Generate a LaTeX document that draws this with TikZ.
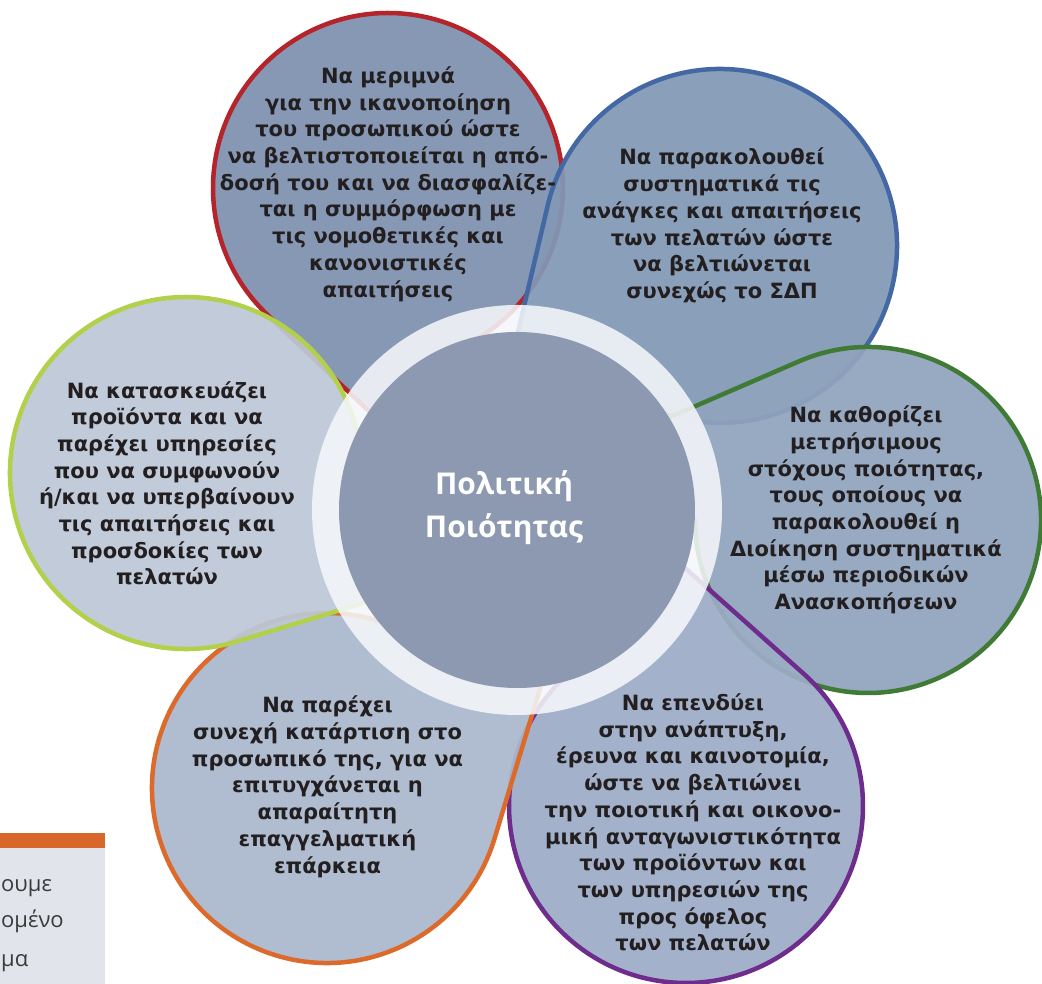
\documentclass[tikz,border=0pt]{standalone}
\usepackage{fontspec}
\setmainfont{Open Sans}
\newfontfamily\petalfont{DejaVu Sans}
\usetikzlibrary{calc}
\definecolor{lnRed}{HTML}{B5232B}
\definecolor{lnBlue}{HTML}{4468A3}
\definecolor{lnGreen}{HTML}{3F7B35}
\definecolor{lnPurple}{HTML}{6E2C8C}
\definecolor{lnOrange}{HTML}{DC6A2A}
\definecolor{lnLime}{HTML}{B2D04A}
\definecolor{fRed}{HTML}{7E91AF}
\definecolor{fBlue}{HTML}{8298B5}
\definecolor{fGreen}{HTML}{91A4BE}
\definecolor{fPurple}{HTML}{9DADC6}
\definecolor{fOrange}{HTML}{AAB9CD}
\definecolor{fLime}{HTML}{BDC8D7}
\definecolor{ringcol}{HTML}{F5F7FA}
\definecolor{innercol}{HTML}{8C99B0}
\definecolor{txtdark}{HTML}{231F20}
\definecolor{boxOr}{HTML}{D9662B}
\definecolor{boxGray}{HTML}{E1E5EB}
\definecolor{boxTxt}{HTML}{3A3A3A}
\begin{document}
\begin{tikzpicture}[x=1pt,y=1pt,
  petal/.style={line width=4.5pt, fill opacity=0.93, line join=round},
  ptext/.style={align=center, inner sep=0pt, text=txtdark,
    font=\petalfont\fontsize{21}{26.7}\selectfont\bfseries},
  ctext/.style={align=center, inner sep=0pt, text=white,
    font=\fontsize{30}{43}\selectfont\bfseries},
  btext/.style={anchor=base west, inner sep=0pt, text=boxTxt,
    font=\fontsize{22}{22}\selectfont}]
\useasboundingbox (0,0) rectangle (1042,984);
\fill[white] (0,0) rectangle (1042,984);
\begin{scope}
\clip (0,0) rectangle (1042,984);
% centres (y flipped: 984 - image y)
\coordinate (O) at (517,474);
\coordinate (C1) at (388,796);
\coordinate (C2) at (720,738);
\coordinate (C3) at (868,464);
\coordinate (C4) at (686,178);
\coordinate (C5) at (327,196);
\coordinate (C6) at (186,511);
\coordinate (T1) at (412,532);
\coordinate (T2) at (502,584);
\coordinate (T3) at (610,541);
\coordinate (T4) at (648,449);
\coordinate (T5) at (556,348);
\coordinate (T6) at (416,397);
% petals
\filldraw[petal, draw=lnRed, fill=fRed] (T1) -- ($(C1)+(-133.3:175)$)
  arc[start angle=-133.3, end angle=-425, radius=175] -- cycle;
\filldraw[petal, draw=lnBlue, fill=fBlue] (T2) -- ($(C2)+(-193.1:177)$)
  arc[start angle=-193.1, end angle=-480, radius=177] -- cycle;
\filldraw[petal, draw=lnGreen, fill=fGreen] (T3) -- ($(C3)+(-246.8:173)$)
  arc[start angle=-246.8, end angle=-540, radius=173] -- cycle;
\filldraw[petal, draw=lnPurple, fill=fPurple] (T4) -- ($(C4)+(-311.9:177)$)
  arc[start angle=-311.9, end angle=-595, radius=177] -- cycle;
\filldraw[petal, draw=lnOrange, fill=fOrange] (T5) -- ($(C5)+(-17:175)$)
  arc[start angle=-17, end angle=-300, radius=175] -- cycle;
\filldraw[petal, draw=lnLime, fill=fLime] (T6) -- ($(C6)+(-73.1:176)$)
  arc[start angle=-73.1, end angle=-350, radius=176] -- cycle;
% centre ring and disc
\fill[ringcol, fill opacity=0.88] (O) circle[radius=205];
\fill[innercol] (O) circle[radius=178];
% texts
\node[ptext] (t1) at (388,984-184) {Να μεριμνά\\για την ικανοποίηση\\του προσωπικού ώστε\\να βελτιστοποιείται η από-\\δοσή του και να διασφαλίζε-\\ται η συμμόρφωση με\\τις νομοθετικές και\\κανονιστικές\\απαιτήσεις};
\node[ptext] (t2) at (722,984-225.5) {Να παρακολουθεί\\συστηματικά τις\\ανάγκες και απαιτήσεις\\των πελατών ώστε\\να βελτιώνεται\\συνεχώς το ΣΔΠ};
\node[ptext] (t3) at (866,984-510) {Να καθορίζει\\μετρήσιμους\\στόχους ποιότητας,\\τους οποίους να\\παρακολουθεί η\\Διοίκηση συστηματικά\\μέσω περιοδικών\\Ανασκοπήσεων};
\node[ptext] (t4) at (693,984-822.5) {Να επενδύει\\στην ανάπτυξη,\\έρευνα και καινοτομία,\\ώστε να βελτιώνει\\την ποιοτική και οικονο-\\μική ανταγωνιστικότητα\\των προϊόντων και\\των υπηρεσιών της\\προς όφελος\\των πελατών};
\node[ptext] (t5) at (327.5,984-786.7) {Να παρέχει\\συνεχή κατάρτιση στο\\προσωπικό της, για να\\επιτυγχάνεται η\\απαραίτητη\\επαγγελματική\\επάρκεια};
\node[ptext] (t6) at (167,984-483.3) {Να κατασκευάζει\\προϊόντα και να\\παρέχει υπηρεσίες\\που να συμφωνούν\\ή/και να υπερβαίνουν\\τις απαιτήσεις και\\προσδοκίες των\\πελατών};
\node[ctext] (ct) at (504,984-508) {Πολιτική\\Ποιότητας};
% cut-off box at lower left
\fill[boxOr] (0,136) rectangle (105,151);
\fill[boxGray] (0,0) rectangle (105,136);
\node[btext] (b1) at (1,984-892) {ουμε};
\node[btext] (b2) at (1,984-928) {ομένο};
\node[btext] (b3) at (1,984-967) {μα};
\end{scope}
\end{tikzpicture}
\end{document}
